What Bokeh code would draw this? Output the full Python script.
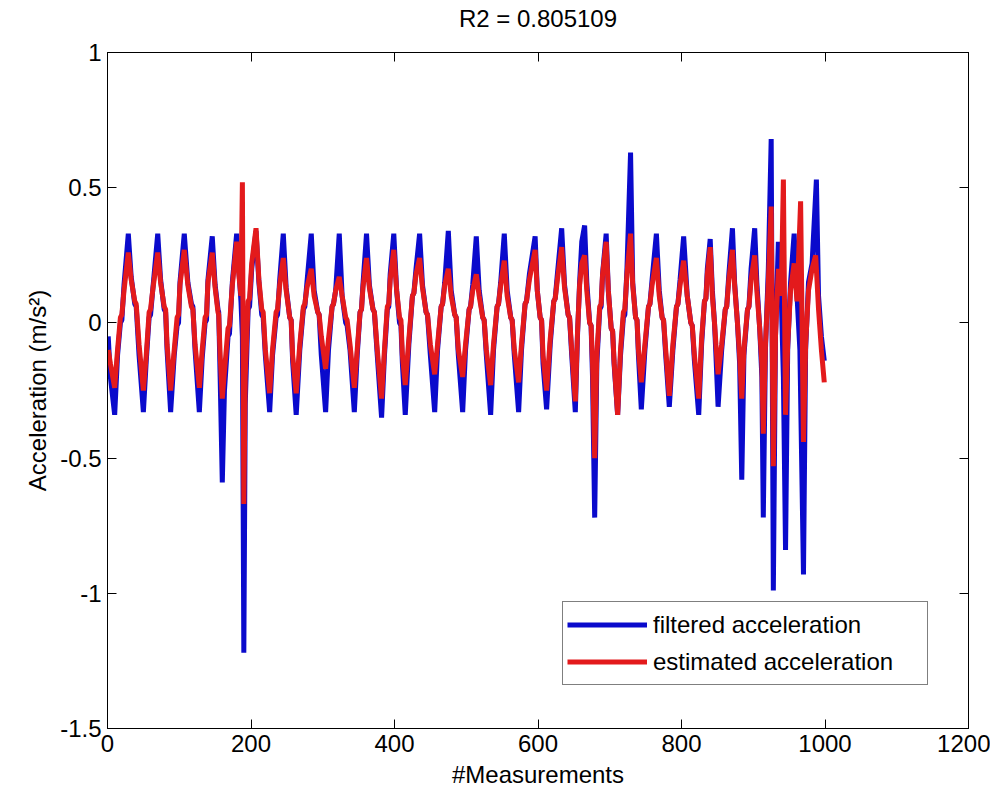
from bokeh.plotting import figure
from bokeh.models import (Range1d, LinearAxis, FixedTicker, CustomJSTickFormatter,
                          Legend, LegendItem, ColumnDataSource)
from bokeh.embed import file_html
from bokeh.resources import INLINE

# ---------------- data ----------------
title_text = "R2 = 0.805109"
x_label = "#Measurements"
y_label = "Acceleration (m/s\u00b2)"
x_ticks = [0, 200, 400, 600, 800, 1000, 1200]
y_ticks = [-1.5, -1, -0.5, 0, 0.5, 1]
series_names = ["filtered acceleration", "estimated acceleration"]

blue_x = [1, 4, 10,
          14, 18, 20, 23, 29, 33, 38, 40, 44, 50,
          54, 58, 60, 63, 70, 74, 79, 81, 83, 88,
          93, 97, 99, 101, 107, 112, 117, 119, 122, 128,
          132, 136, 138, 140, 146, 150, 154, 155, 157, 160,
          163, 168, 170, 174, 180, 183, 186, 188, 190,
          192, 196, 198, 201, 207, 211, 215, 217, 220, 226,
          230, 235, 237, 240, 245, 249, 254, 256, 258, 263,
          268, 273, 275, 278, 284, 288, 293, 295, 298, 304,
          308, 313, 315, 318, 323, 327, 332, 334, 338, 344,
          348, 352, 354, 356, 361, 365, 370, 372, 376, 382,
          386, 390, 392, 394, 399, 403, 407, 409, 411, 415,
          420, 425, 427, 430, 435, 439, 444, 446, 450, 456,
          460, 465, 467, 470, 475, 479, 484, 486, 489, 495,
          499, 504, 506, 509, 514, 518, 523, 525, 528, 534,
          538, 543, 545, 548, 553, 557, 562, 564, 567, 573,
          577, 582, 584, 588, 596, 599, 603, 605, 607, 612,
          617, 622, 624, 627, 633, 637, 642, 644, 647, 652,
          655, 658, 661, 665, 668, 672, 674, 676, 679,
          682, 686, 688, 690, 695, 698, 702, 704, 706, 711,
          715, 719, 721, 724, 729, 732, 736, 738, 740, 744,
          749, 754, 756, 759, 765, 769, 773, 775, 778, 783,
          788, 793, 795, 798, 803, 808, 813, 815, 818, 824,
          828, 832, 834, 836, 840, 843, 846, 848, 851,
          856, 861, 863, 866, 871, 874, 878, 881, 884,
          887, 892, 894, 897, 902, 905, 909, 912, 914,
          917, 921, 925, 928, 931, 935, 939, 942, 945,
          948, 952, 957, 961, 965, 970,
          973, 977, 982, 988, 991, 995, 999]
blue_y = [-0.05, -0.2, -0.34,
          -0.12, 0.0, 0.01, 0.14, 0.33, 0.17, 0.07, 0.06, -0.12, -0.33,
          -0.14, 0.02, 0.03, 0.12, 0.33, 0.16, 0.05, 0.04, -0.1, -0.33,
          -0.12, -0.01, 0.0, 0.15, 0.33, 0.15, 0.07, 0.06, -0.1, -0.33,
          -0.13, 0.0, 0.01, 0.16, 0.32, 0.14, 0.05, 0.04, -0.2, -0.59,
          -0.25, -0.05, -0.04, 0.15, 0.33, 0.2, 0.08, -0.05, -1.22,
          -0.3, 0.05, 0.06, 0.2, 0.34, 0.15, 0.03, 0.02, -0.12, -0.33,
          -0.12, 0.02, 0.03, 0.16, 0.33, 0.13, 0.02, 0.01, -0.14, -0.34,
          -0.1, 0.05, 0.06, 0.15, 0.33, 0.12, 0.04, 0.03, -0.12, -0.33,
          -0.1, 0.06, 0.07, 0.12, 0.33, 0.1, 0.0, -0.01, -0.1, -0.33,
          -0.12, 0.04, 0.05, 0.14, 0.33, 0.14, 0.05, 0.04, -0.12, -0.35,
          -0.12, 0.05, 0.06, 0.18, 0.33, 0.12, 0.0, -0.01, -0.15, -0.34,
          -0.08, 0.1, 0.11, 0.2, 0.33, 0.14, 0.04, 0.03, -0.12, -0.33,
          -0.1, 0.06, 0.07, 0.15, 0.34, 0.12, 0.03, 0.02, -0.12, -0.33,
          -0.1, 0.05, 0.06, 0.14, 0.32, 0.12, 0.02, 0.01, -0.12, -0.34,
          -0.1, 0.06, 0.07, 0.15, 0.33, 0.12, 0.02, 0.01, -0.12, -0.33,
          -0.1, 0.07, 0.08, 0.18, 0.32, 0.12, 0.02, 0.01, -0.15, -0.32,
          -0.08, 0.08, 0.09, 0.18, 0.35, 0.14, 0.03, 0.02, -0.12, -0.33,
          -0.05, 0.15, 0.3, 0.36, 0.15, 0.0, -0.01, -0.2, -0.72,
          -0.15, 0.05, 0.06, 0.18, 0.33, 0.12, -0.02, -0.03, -0.15, -0.34,
          -0.12, 0.02, 0.03, 0.2, 0.63, 0.15, 0.02, 0.01, -0.12, -0.32,
          -0.1, 0.06, 0.07, 0.16, 0.33, 0.12, 0.02, 0.01, -0.12, -0.31,
          -0.1, 0.06, 0.07, 0.16, 0.32, 0.1, 0.0, -0.01, -0.14, -0.34,
          -0.08, 0.08, 0.09, 0.2, 0.31, 0.12, 0.0, -0.12, -0.31,
          -0.1, 0.05, 0.06, 0.18, 0.35, 0.15, 0.0, -0.15, -0.58,
          -0.12, 0.05, 0.06, 0.2, 0.35, 0.15, -0.02, -0.2, -0.72,
          -0.1, 0.2, 0.68, -0.99, -0.05, 0.3, 0.1, -0.2, -0.84,
          -0.1, 0.15, 0.33, 0.1, -0.1, -0.93,
          -0.1, 0.15, 0.22, 0.53, 0.1, -0.05, -0.14]

red_x = [1, 4, 10,
         14, 18, 20, 23, 29, 33, 38, 40, 44, 50,
         54, 58, 60, 63, 70, 74, 79, 81, 83, 88,
         93, 97, 99, 101, 107, 112, 117, 119, 122, 128,
         132, 136, 138, 140, 146, 150, 154, 155, 157, 160,
         163, 168, 170, 174, 180, 183, 186, 188, 190,
         192, 196, 198, 201, 207, 211, 215, 217, 220, 226,
         230, 235, 237, 240, 245, 249, 254, 256, 258, 263,
         268, 273, 275, 278, 284, 288, 293, 295, 298, 304,
         308, 313, 315, 318, 323, 327, 332, 334, 338, 344,
         348, 352, 354, 356, 361, 365, 370, 372, 376, 382,
         386, 390, 392, 394, 399, 403, 407, 409, 411, 415,
         420, 425, 427, 430, 435, 439, 444, 446, 450, 456,
         460, 465, 467, 470, 475, 479, 484, 486, 489, 495,
         499, 504, 506, 509, 514, 518, 523, 525, 528, 534,
         538, 543, 545, 548, 553, 557, 562, 564, 567, 573,
         577, 582, 584, 588, 596, 599, 603, 605, 607, 612,
         617, 622, 624, 627, 633, 637, 642, 644, 647, 652,
         655, 658, 661, 665, 668, 672, 674, 676, 679,
         682, 686, 688, 690, 695, 698, 702, 704, 706, 711,
         715, 719, 721, 724, 729, 732, 736, 738, 740, 744,
         749, 754, 756, 759, 765, 769, 773, 775, 778, 783,
         788, 793, 795, 798, 803, 808, 813, 815, 818, 824,
         828, 832, 834, 836, 840, 843, 846, 848, 851,
         856, 861, 863, 866, 871, 874, 878, 881, 884,
         887, 892, 894, 897, 902, 905, 909, 912, 914,
         917, 921, 925, 928, 931, 935, 939, 942, 945,
         948, 952, 957, 961, 966, 970,
         973, 977, 982, 987, 991, 995, 999]
red_y = [-0.1, -0.15, -0.24,
         -0.1, 0.02, 0.03, 0.12, 0.26, 0.16, 0.08, 0.07, -0.08, -0.25,
         -0.12, 0.04, 0.05, 0.12, 0.26, 0.15, 0.06, 0.05, -0.08, -0.25,
         -0.1, 0.02, 0.03, 0.14, 0.27, 0.14, 0.06, 0.05, -0.08, -0.24,
         -0.1, 0.02, 0.03, 0.15, 0.26, 0.13, 0.04, 0.03, -0.12, -0.28,
         -0.18, -0.02, -0.01, 0.14, 0.3, 0.18, 0.1, 0.52, -0.67,
         -0.2, 0.08, 0.09, 0.22, 0.35, 0.16, 0.05, 0.04, -0.1, -0.26,
         -0.1, 0.04, 0.05, 0.14, 0.24, 0.12, 0.02, 0.01, -0.12, -0.26,
         -0.08, 0.06, 0.07, 0.13, 0.2, 0.1, 0.04, 0.03, -0.05, -0.17,
         -0.06, 0.06, 0.07, 0.12, 0.17, 0.1, 0.02, 0.01, -0.08, -0.24,
         -0.1, 0.04, 0.05, 0.13, 0.24, 0.13, 0.05, 0.04, -0.1, -0.28,
         -0.1, 0.06, 0.07, 0.16, 0.27, 0.12, 0.02, 0.01, -0.12, -0.23,
         -0.06, 0.1, 0.11, 0.18, 0.24, 0.13, 0.04, 0.03, -0.08, -0.19,
         -0.08, 0.06, 0.07, 0.14, 0.2, 0.1, 0.03, 0.02, -0.1, -0.2,
         -0.08, 0.05, 0.06, 0.12, 0.18, 0.1, 0.02, 0.01, -0.1, -0.23,
         -0.08, 0.06, 0.07, 0.14, 0.23, 0.1, 0.02, 0.01, -0.1, -0.22,
         -0.08, 0.07, 0.08, 0.16, 0.27, 0.12, 0.02, 0.01, -0.12, -0.25,
         -0.06, 0.08, 0.09, 0.16, 0.28, 0.13, 0.03, 0.02, -0.1, -0.29,
         -0.04, 0.14, 0.22, 0.25, 0.12, 0.0, -0.01, -0.15, -0.5,
         -0.12, 0.06, 0.07, 0.18, 0.3, 0.12, -0.02, -0.03, -0.14, -0.34,
         -0.1, 0.04, 0.05, 0.18, 0.33, 0.14, 0.02, 0.01, -0.1, -0.22,
         -0.08, 0.06, 0.07, 0.14, 0.24, 0.1, 0.02, 0.01, -0.1, -0.27,
         -0.08, 0.06, 0.07, 0.14, 0.23, 0.1, 0.0, -0.01, -0.12, -0.28,
         -0.06, 0.08, 0.09, 0.18, 0.28, 0.1, 0.0, -0.08, -0.19,
         -0.08, 0.05, 0.06, 0.16, 0.27, 0.14, 0.0, -0.12, -0.28,
         -0.1, 0.05, 0.06, 0.16, 0.25, 0.12, -0.02, -0.15, -0.41,
         -0.08, 0.15, 0.43, -0.53, -0.05, 0.2, 0.1, 0.53, -0.34,
         -0.08, 0.12, 0.22, 0.08, 0.45, -0.44,
         -0.08, 0.12, 0.2, 0.25, 0.05, -0.1, -0.22]

# ---------------- styling ----------------
FONT = "Liberation Sans"
FS = "24px"
BLUE = "#0a0acc"
RED = "#e31a1c"

p = figure(width=990, height=796, output_backend="svg", toolbar_location=None,
           x_range=Range1d(0, 1200), y_range=Range1d(-1.5, 1),
           min_border_left=107, min_border_right=22, min_border_top=52, min_border_bottom=68,
           background_fill_color="white", border_fill_color="white")
p.outline_line_color = "black"
p.outline_line_width = 1
p.xgrid.visible = False
p.ygrid.visible = False
p.title.visible = False

fmt = CustomJSTickFormatter(code="return tick.toString();")

for ax, ticks in ((p.xaxis[0], x_ticks), (p.yaxis[0], y_ticks)):
    ax.ticker = FixedTicker(ticks=ticks)
    ax.formatter = fmt
    ax.major_tick_in = 9
    ax.major_tick_out = 0
    ax.minor_tick_line_color = None
    ax.major_label_text_font = FONT
    ax.major_label_text_font_size = FS
    ax.major_label_text_color = "black"
    ax.axis_label_text_font = FONT
    ax.axis_label_text_font_size = FS
    ax.axis_label_text_font_style = "normal"
    ax.axis_label_text_color = "black"
    ax.axis_line_color = "black"
    ax.major_tick_line_color = "black"
    ax.major_label_standoff = 6

p.xaxis[0].axis_label = x_label
p.xaxis[0].axis_label_standoff = 6
p.yaxis[0].axis_label = y_label
p.yaxis[0].axis_label_standoff = 6

# mirrored box ticks (right side), no labels
right_ax = LinearAxis(ticker=FixedTicker(ticks=y_ticks), major_tick_in=9, major_tick_out=0,
                      minor_tick_line_color=None, major_label_text_color=None,
                      major_label_text_font_size="2px", major_label_standoff=0,
                      axis_line_color="black", major_tick_line_color="black")
p.add_layout(right_ax, "right")

# top box edge with ticks; its axis label carries the chart title
top_ax = LinearAxis(ticker=FixedTicker(ticks=x_ticks), major_tick_in=9, major_tick_out=0,
                    minor_tick_line_color=None, major_label_text_color=None,
                    major_label_text_font_size="2px", major_label_standoff=0,
                    axis_line_color="black", major_tick_line_color="black",
                    axis_label=title_text, axis_label_text_font=FONT,
                    axis_label_text_font_size=FS, axis_label_text_font_style="normal",
                    axis_label_text_color="black", axis_label_standoff=21)
p.add_layout(top_ax, "above")

src_b = ColumnDataSource(dict(x=blue_x, y=blue_y))
src_r = ColumnDataSource(dict(x=red_x, y=red_y))
rb = p.line("x", "y", source=src_b, line_color=BLUE, line_width=5, line_join="bevel")
rr = p.line("x", "y", source=src_r, line_color=RED, line_width=5, line_join="bevel")

legend = Legend(items=[LegendItem(label=series_names[0], renderers=[rb]),
                       LegendItem(label=series_names[1], renderers=[rr])],
                location=(455, 43), orientation="vertical",
                label_text_font=FONT, label_text_font_size=FS, label_text_color="black",
                glyph_width=80, glyph_height=37, label_height=37, label_width=270,
                label_standoff=6, padding=4, spacing=0, margin=0,
                border_line_color="black", border_line_width=1,
                background_fill_color="white", background_fill_alpha=1)
p.add_layout(legend, "center")

open("out.html", "w").write(file_html(p, INLINE))
